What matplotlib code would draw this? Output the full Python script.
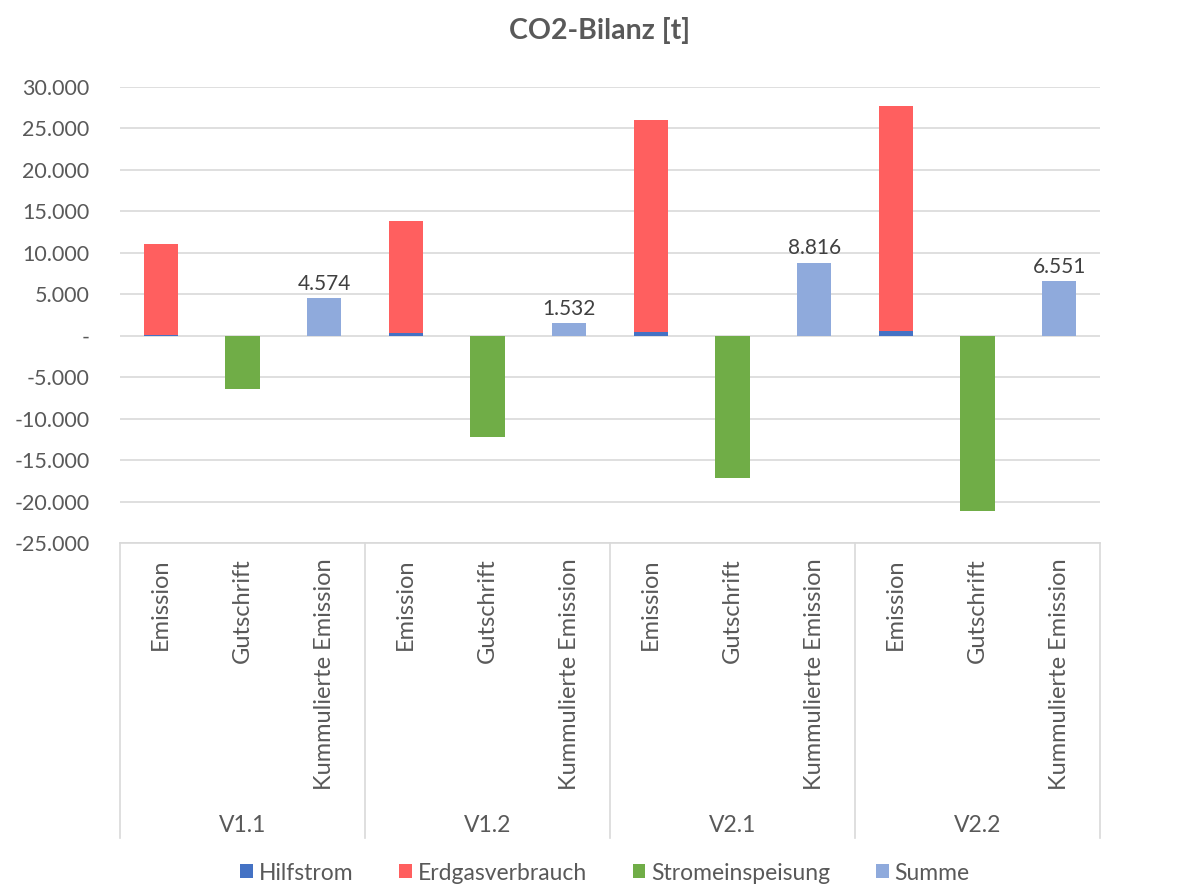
import matplotlib.pyplot as plt
from matplotlib.ticker import FuncFormatter

plt.rcParams['font.family'] = ['Lato', 'DejaVu Sans']

varianten = ["V1.1", "V1.2", "V2.1", "V2.2"]
kategorien = ["Emission", "Gutschrift", "Kummulierte Emission"]

hilfstrom = [100, 350, 400, 520]
erdgasverbrauch = [10950, 13450, 25600, 27130]
stromeinspeisung = [-6476, -12268, -17184, -21099]
summe = [4574, 1532, 8816, 6551]

c_hilf = "#4472C4"
c_erdgas = "#FF5F5F"
c_strom = "#70AD47"
c_summe = "#8FAADC"
txt = "#595959"
grid = "#D9D9D9"


def tsd(v):
    # Excel-style number format: 30.000, -5.000, zero as "-"
    if v == 0:
        return "-"
    s = f"{abs(v):,.0f}".replace(",", ".")
    return ("-" if v < 0 else "") + s


fig = plt.figure(figsize=(11.77, 8.85), dpi=100)
ax = fig.add_axes([120 / 1177, 1 - 543 / 885, 980 / 1177, 456 / 885])

w = 0.42
n = len(kategorien)
x_em = [g * n + 0.5 for g in range(len(varianten))]
x_gs = [g * n + 1.5 for g in range(len(varianten))]
x_ku = [g * n + 2.5 for g in range(len(varianten))]

ax.bar(x_em, hilfstrom, w, color=c_hilf, label="Hilfstrom", zorder=3)
ax.bar(x_em, erdgasverbrauch, w, bottom=hilfstrom, color=c_erdgas, label="Erdgasverbrauch", zorder=3)
ax.bar(x_gs, stromeinspeisung, w, color=c_strom, label="Stromeinspeisung", zorder=3)
bars = ax.bar(x_ku, summe, w, color=c_summe, label="Summe", zorder=3)

for b, v in zip(bars, summe):
    ax.annotate(tsd(v), (b.get_x() + b.get_width() / 2, v), xytext=(0, 3),
                textcoords="offset points", ha="center", va="bottom",
                fontsize=15, color="#404040")

ax.set_xlim(0, n * len(varianten))
ax.set_ylim(-25000, 30000)
ax.set_yticks(range(-25000, 30001, 5000))
ax.yaxis.set_major_formatter(FuncFormatter(lambda v, p: tsd(v)))
ax.set_xticks([])
ax.tick_params(axis="y", length=0, labelsize=15.5, labelcolor=txt, pad=22)
ax.grid(axis="y", color=grid, linewidth=1.2, zorder=0)
for s in ["left", "right", "top"]:
    ax.spines[s].set_visible(False)
ax.spines["bottom"].set_color(grid)
ax.spines["bottom"].set_linewidth(1.2)

# two-level category axis below the plot
tr = ax.get_xaxis_transform()
for g, name in enumerate(varianten):
    for k, kat in enumerate(kategorien):
        ax.text(g * n + k + 0.5, -0.033, kat, transform=tr, rotation=90,
                ha="center", va="top", fontsize=17, color=txt)
    ax.text(g * n + 1.5, -0.62, name, transform=tr, ha="center", va="center",
            fontsize=16.5, color=txt)
for g in range(len(varianten) + 1):
    ax.plot([g * n, g * n], [0, -0.647], transform=tr, color=grid,
            linewidth=1.2, clip_on=False)

fig.text(600 / 1177, 1 - 31 / 885, "CO2-Bilanz [t]", ha="center", va="center",
         fontsize=20.5, fontweight="bold", color=txt)

fig.legend(loc="center", bbox_to_anchor=(0.514, 1 - 873 / 885), ncol=4,
           frameon=False, fontsize=16.5, labelcolor=txt, handlelength=0.55,
           handleheight=0.55, handletextpad=0.25, columnspacing=2.0)

fig.savefig("out.png", dpi=100)
